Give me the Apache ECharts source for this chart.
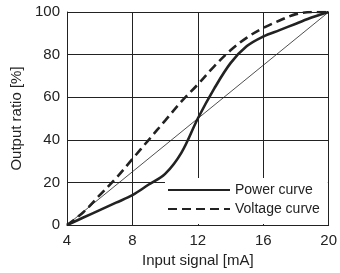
<!DOCTYPE html>
<html>
<head>
<meta charset="utf-8">
<script src="https://cdn.jsdelivr.net/npm/echarts@6/dist/echarts.min.js"></script>
<style>
  html, body { margin: 0; padding: 0; background: #fff; }
  #chart { width: 340px; height: 273px; }
</style>
</head>
<body>
<div id="chart"></div>
<script>
// 输入信号 [mA]
const xTicks = [4, 8, 12, 16, 20];
const yTicks = [0, 20, 40, 60, 80, 100];
// 参考线（线性）
const linearLine = [[4, 0], [20, 100]];
// 功率曲线
const powerCurve = [
  [4, 0], [5, 3.5], [6, 7], [7, 10.5], [8, 14], [9, 19], [10, 24], [11, 34],
  [12, 50], [13, 64], [14, 76], [15, 84], [16, 88.5], [17, 91.5], [18, 94.5], [19, 97.5], [20, 100]
];
// 电压曲线
const voltageCurve = [
  [4, 0], [5, 6], [6, 14], [7, 22], [8, 31], [9, 40], [10, 49], [11, 58],
  [12, 66], [13, 74.5], [14, 82], [15, 88], [16, 92.5], [17, 96], [18, 99], [19, 100], [20, 100]
];

const chart = echarts.init(document.getElementById('chart'));
const font = 'Liberation Sans, Arial, sans-serif';
const option = {
  animation: false,
  textStyle: { fontFamily: font },
  grid: { left: 67, right: 10, top: 12, bottom: 48 },
  legend: {
    orient: 'vertical',
    left: 165,
    top: 178,
    itemWidth: 62,
    itemHeight: 14,
    itemGap: 5,
    padding: [5, 8, 8, 2],
    backgroundColor: '#fff',
    itemStyle: { opacity: 0 },
    textStyle: { fontSize: 14, color: '#222', fontFamily: font },
    data: ['Power curve', 'Voltage curve']
  },
  xAxis: {
    type: 'value',
    min: xTicks[0],
    max: xTicks[xTicks.length - 1],
    interval: 4,
    name: 'Input signal [mA]',
    nameLocation: 'middle',
    nameGap: 28,
    nameTextStyle: { fontSize: 15, color: '#222' },
    axisLine: { lineStyle: { color: '#222', width: 1 } },
    axisTick: { show: false },
    axisLabel: { fontSize: 15, color: '#222', margin: 8 },
    splitLine: { show: true, lineStyle: { color: '#222', width: 1 } }
  },
  yAxis: {
    type: 'value',
    min: yTicks[0],
    max: yTicks[yTicks.length - 1],
    interval: 20,
    name: 'Output ratio [%]',
    nameLocation: 'middle',
    nameGap: 43,
    nameTextStyle: { fontSize: 15, color: '#222' },
    axisLine: { show: true, lineStyle: { color: '#222', width: 1 } },
    axisTick: { show: false },
    axisLabel: { fontSize: 15, color: '#222', margin: 7 },
    splitLine: { show: true, lineStyle: { color: '#222', width: 1 } }
  },
  series: [
    {
      name: 'linear',
      type: 'line',
      data: linearLine,
      symbol: 'none',
      lineStyle: { color: '#222', width: 0.8 },
      z: 3
    },
    {
      name: 'Power curve',
      type: 'line',
      data: powerCurve,
      smooth: 0.35,
      symbol: 'none',
      itemStyle: { color: '#222' },
      lineStyle: { color: '#222', width: 2.6 },
      z: 3
    },
    {
      name: 'Voltage curve',
      type: 'line',
      data: voltageCurve,
      smooth: 0.35,
      symbol: 'none',
      itemStyle: { color: '#222' },
      lineStyle: { color: '#222', width: 2.6, type: [9, 5] },
      z: 3
    }
  ]
};
chart.setOption(option);
</script>
</body>
</html>
